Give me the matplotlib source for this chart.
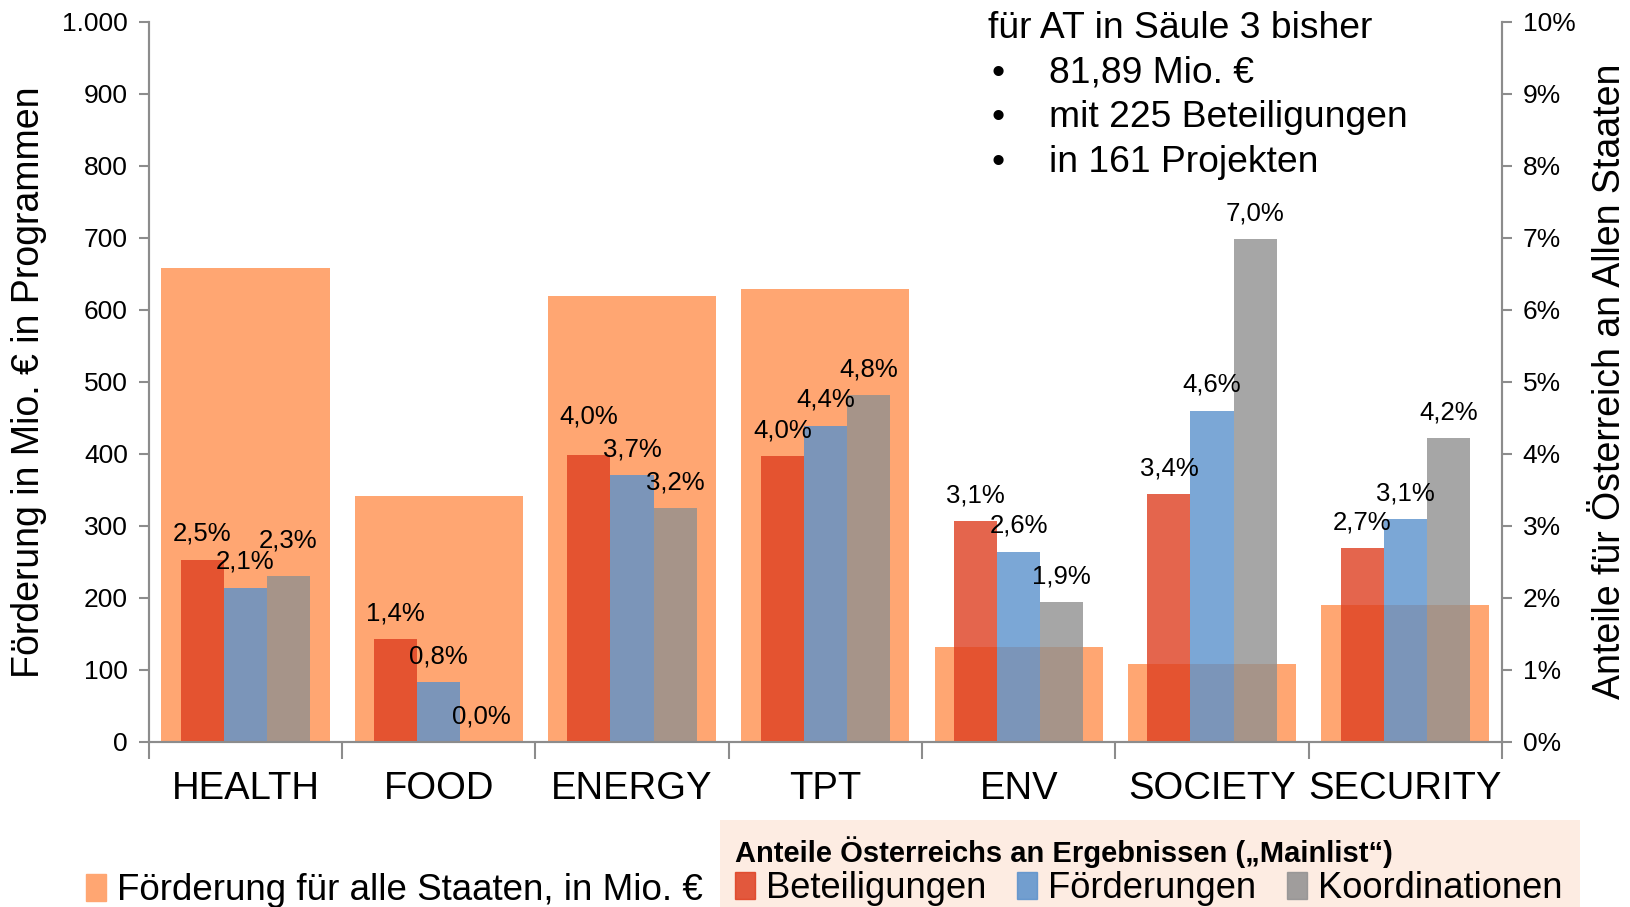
import matplotlib
matplotlib.use("Agg")
import matplotlib.pyplot as plt
from matplotlib.patches import Patch, Rectangle
from matplotlib.ticker import FuncFormatter

plt.rcParams["font.family"] = ["Liberation Sans", "DejaVu Sans"]

categories = ["HEALTH", "FOOD", "ENERGY", "TPT", "ENV", "SOCIETY", "SECURITY"]
# Förderung für alle Staaten, Mio. €
funding_all = [658, 342, 619, 629, 131, 108, 190]
# Anteile Österreichs in %
beteiligungen = [2.53, 1.43, 3.98, 3.97, 3.06, 3.44, 2.69]
foerderungen = [2.14, 0.83, 3.70, 4.39, 2.64, 4.60, 3.09]
koordinationen = [2.30, 0.0, 3.24, 4.82, 1.94, 6.98, 4.22]
label_beteiligungen = ["2,5%", "1,4%", "4,0%", "4,0%", "3,1%", "3,4%", "2,7%"]
label_foerderungen = ["2,1%", "0,8%", "3,7%", "4,4%", "2,6%", "4,6%", "3,1%"]
label_koordinationen = ["2,3%", "0,0%", "3,2%", "4,8%", "1,9%", "7,0%", "4,2%"]

c_orange = "#FFA672"
c_red = "#DE3E20"
c_blue = "#5A91CC"
c_gray = "#909090"
axis_col = "#8C8C8C"

fig = plt.figure(figsize=(16.31, 9.07), dpi=100)
ax = fig.add_axes([0.0912, 0.1822, 0.8297, 0.7938])
ax2 = ax.twinx()

x = list(range(len(categories)))
ax.bar(x, funding_all, width=0.87, color=c_orange, zorder=1)

w = 0.223
series = [
    (beteiligungen, label_beteiligungen, c_red, -w),
    (foerderungen, label_foerderungen, c_blue, 0.0),
    (koordinationen, label_koordinationen, c_gray, w),
]
# extra lift for a few labels that were moved to avoid overlap
nudge = {(0, 2): 7, (2, 0): 9}
for s, (vals, labs, col, off) in enumerate(series):
    xs = [i + off for i in x]
    ax2.bar(xs, vals, width=w, color=col, alpha=0.8, linewidth=0)
    for i, (xv, v, lab) in enumerate(zip(xs, vals, labs)):
        ax2.annotate(lab, (xv, v), xytext=(0, 18.5 + nudge.get((i, s), 0)),
                     textcoords="offset points", ha="center", va="center",
                     fontsize=18.5)

ax.set_xlim(-0.5, 6.5)
ax.set_ylim(0, 1000)
ax2.set_ylim(0, 10)
ax.set_yticks(range(0, 1001, 100))
ax.yaxis.set_major_formatter(FuncFormatter(lambda v, p: f"{int(v):,}".replace(",", ".")))
ax2.set_yticks(range(0, 11))
ax2.yaxis.set_major_formatter(FuncFormatter(lambda v, p: f"{int(v)}%"))

ax.set_xticks(x)
ax.set_xticklabels(categories, fontsize=27.5)
ax.set_xticks([i - 0.5 for i in range(len(categories) + 1)], minor=True)
ax.tick_params(axis="x", which="major", length=0, pad=21)
ax.tick_params(axis="x", which="minor", length=12, width=1.5, color=axis_col)
ax.tick_params(axis="y", labelsize=19, length=7, width=1.5, color=axis_col, pad=8)
ax2.tick_params(axis="y", labelsize=19, length=7, width=1.5, color=axis_col, pad=8)

for a in (ax, ax2):
    a.spines["top"].set_visible(False)
    for sp in ("left", "right", "bottom"):
        a.spines[sp].set_color(axis_col)
        a.spines[sp].set_linewidth(1.5)

ax.set_ylabel("Förderung in Mio. € in Programmen", fontsize=27, labelpad=11)
ax2.set_ylabel("Anteile für Österreich an Allen Staaten", fontsize=27, labelpad=12)

# info text top right
fig.text(0.606, 0.969, "für AT in Säule 3 bisher", fontsize=26.8, va="center")
bullets = ["81,89 Mio. €", "mit 225 Beteiligungen", "in 161 Projekten"]
for k, b in enumerate(bullets):
    yy = 0.969 - (k + 1) * 0.0495
    fig.text(0.608, yy, "•", fontsize=26.8, va="center")
    fig.text(0.643, yy, b, fontsize=26.8, va="center")

# legends
fig.legend(handles=[Patch(color=c_orange)],
           labels=["Förderung für alle Staaten, in Mio. €"],
           loc="center left", bbox_to_anchor=(0.0525, 0.018), frameon=False,
           fontsize=26.5, handlelength=0.55, handleheight=0.75, handletextpad=0.3,
           borderpad=0, borderaxespad=0)

fig.patches.append(Rectangle((0.4415, 0.0), 0.527, 0.096, transform=fig.transFigure,
                             facecolor="#FDECE2", edgecolor="none", zorder=0))
leg = fig.legend(handles=[Patch(color=c_red, alpha=0.85), Patch(color=c_blue, alpha=0.85),
                          Patch(color=c_gray, alpha=0.85)],
                 labels=["Beteiligungen", "Förderungen", "Koordinationen"],
                 loc="lower left", bbox_to_anchor=(0.4505, 0.001), frameon=False, ncol=3,
                 fontsize=26.2, handlelength=0.55, handleheight=0.75, handletextpad=0.3,
                 columnspacing=0.85, borderpad=0, borderaxespad=0,
                 title="Anteile Österreichs an Ergebnissen („Mainlist“)",
                 title_fontproperties={"size": 21, "weight": "bold"},
                 alignment="left")
leg._legend_box.sep = 2

fig.savefig("out.png", dpi=100)
